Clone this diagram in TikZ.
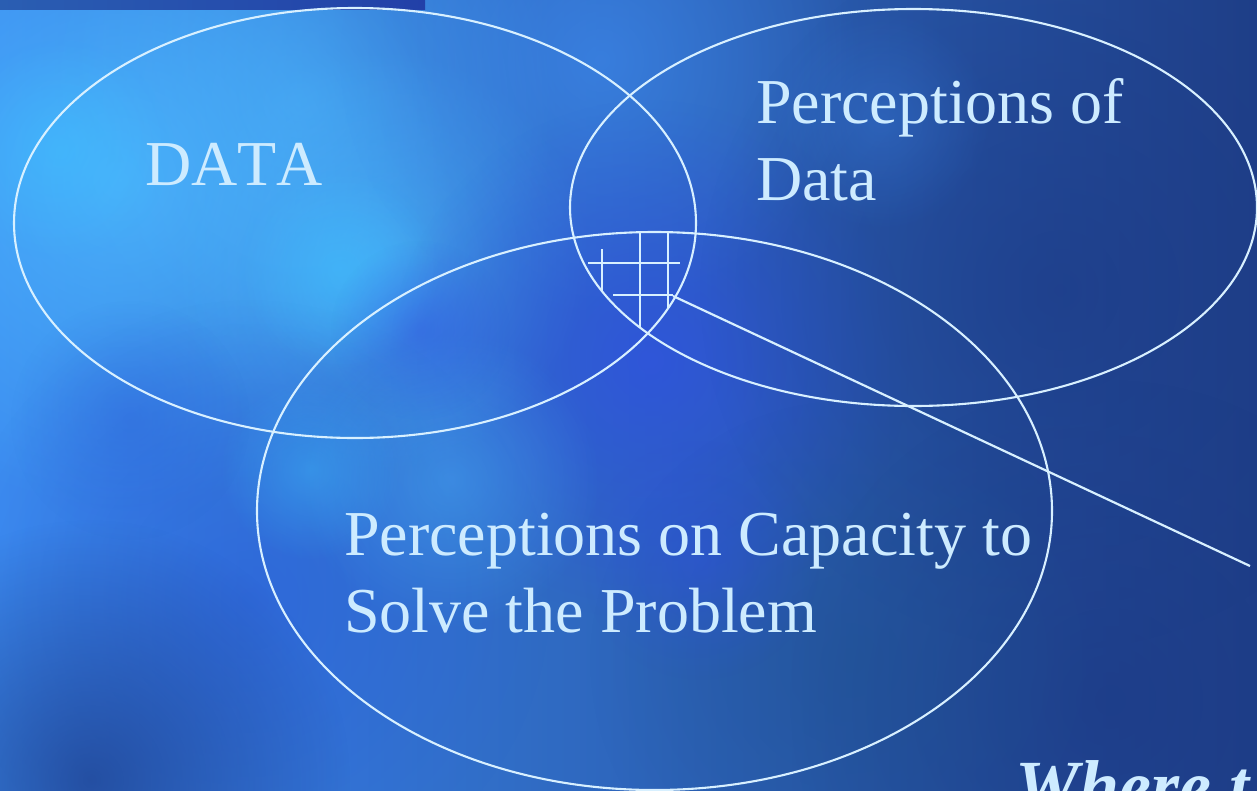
\documentclass[tikz,border=0pt]{standalone}
\usepackage{fontspec}
\setmainfont{Liberation Serif}[Kerning=Off]
\usepackage{tikz}
\usetikzlibrary{positioning, shapes.geometric, fadings}
\definecolor{bgleft}{HTML}{3C8CF0}
\definecolor{bgright}{HTML}{1F3F88}
\definecolor{sky}{HTML}{4DBAFF}
\definecolor{cyanish}{HTML}{3FC2FF}
\definecolor{midblue}{HTML}{3F8DF2}
\definecolor{vivid}{HTML}{3050E6}
\definecolor{deep}{HTML}{2A5CD8}
\definecolor{navy}{HTML}{1C3A86}
\definecolor{teal}{HTML}{1F5290}
\definecolor{bar}{HTML}{2A5EB2}
\definecolor{barend}{HTML}{2240A8}
\definecolor{txt}{HTML}{CDEBFF}
\definecolor{rim}{HTML}{D8F0FF}
\tikzfading[name=blobfade, inner color=transparent!0, outer color=transparent!100]
\tikzset{ring/.style = {ellipse,draw=rim,line width=2.1pt,inner sep=0pt},
         lbl/.style = {text=txt,inner sep=0pt,anchor=base west,font=\fontsize{64}{77}\selectfont},
         hatch/.style = {draw=rim,line width=2.8pt}}

\begin{document}
\begin{tikzpicture}[x=1pt,y=-1pt]
    \useasboundingbox (0,0) rectangle (1257,790);
    \clip (0,0) rectangle (1257,790);
    % background
    \shade [left color=bgleft,right color=bgright] (0,0) rectangle (1257,790);
    \foreach \cx/\cy/\r/\col/\op in {120/180/330/sky/0.8, 380/260/210/sky/0.6, 300/100/260/sky/0.5,
        600/60/260/midblue/0.6, 650/360/260/vivid/0.7, 250/600/300/deep/0.6, 90/780/260/navy/0.7,
        1060/290/360/navy/0.6, 1110/700/320/navy/0.7, 850/660/260/teal/0.5, 450/480/150/sky/0.4,
        60/150/110/cyanish/0.5, 340/270/100/cyanish/0.5, 310/470/90/cyanish/0.4, 420/330/90/vivid/0.4,
        700/560/120/vivid/0.4, 130/420/120/deep/0.4, 880/120/110/midblue/0.3} {
        \fill [\col,opacity=\op,path fading=blobfade] (\cx,\cy) circle (\r);
    }
    \shade [left color=bar,right color=barend] (0,0) rectangle (425,9);

    % the three sets
    \node [ring,minimum width=682,minimum height=430] (data) at (355,223) {};
    \node [ring,minimum width=687,minimum height=397] (percdata) at (913.5,207.5) {};
    \node [ring,minimum width=795,minimum height=558] (capacity) at (654.5,511) {};

    \node [lbl] (datatxt) at (145,185) {DATA};
    \node [lbl] (perc1) at (756,123) {Perceptions of};
    \node [lbl,below=0pt of perc1.base west,anchor=base west,yshift=-77pt] (perc2) {Data};
    \node [lbl] (cap1) at (344,555) {Perceptions on Capacity to};
    \node [lbl,below=0pt of cap1.base west,anchor=base west,yshift=-77pt] (cap2) {Solve the Problem};

    % hatching in the common part
    \draw [hatch] (602,249) -- (602,292);
    \draw [hatch] (640,233) -- (640,327);
    \draw [hatch] (668,233) -- (668,308);
    \draw [hatch] (588,263) -- (680,263);
    \draw [hatch] (613,295) -- (673,295);

    \coordinate (hub) at (673,296);
    \coordinate (tip) at (1250,566);
    \draw [hatch,line width=2.2pt] (hub) -- (tip);

    \node [lbl,font=\fontsize{72}{86}\selectfont\bfseries\itshape] (where) at (1015,810) {Where t};
\end{tikzpicture}
\end{document}
